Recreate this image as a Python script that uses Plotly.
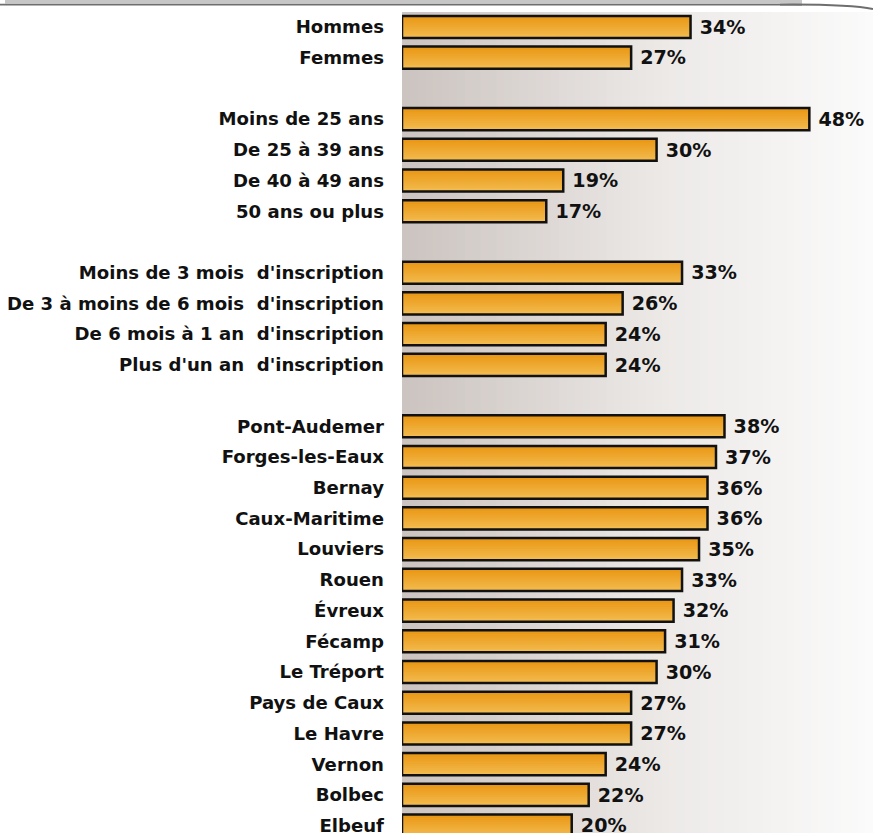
import plotly.graph_objects as go

# ---- data ----
groups = [
    ["Hommes", "Femmes"],
    ["Moins de 25 ans", "De 25 à 39 ans", "De 40 à 49 ans", "50 ans ou plus"],
    ["Moins de 3 mois\u00a0 d'inscription", "De 3 à moins de 6 mois\u00a0 d'inscription",
     "De 6 mois à 1 an\u00a0 d'inscription", "Plus d'un an\u00a0 d'inscription"],
    ["Pont-Audemer", "Forges-les-Eaux", "Bernay", "Caux-Maritime", "Louviers", "Rouen",
     "Évreux", "Fécamp", "Le Tréport", "Pays de Caux", "Le Havre", "Vernon", "Bolbec", "Elbeuf"],
]
group_values = [
    [34, 27],
    [48, 30, 19, 17],
    [33, 26, 24, 24],
    [38, 37, 36, 36, 35, 33, 32, 31, 30, 27, 27, 24, 22, 20],
]

# ---- rows (blank row between groups) ----
labels, values, ypos = [], [], []
row = 0
for g, vals in zip(groups, group_values):
    for lab, v in zip(g, vals):
        labels.append(lab)
        values.append(v)
        ypos.append(row)
        row += 1
    row += 1

W, H = 873, 836
L, T = 402, 12
PW, PH = W - L, H - T
row_px = 30.83
y_top = -15 / row_px
y_bot = y_top + PH / row_px

FONT = "DejaVu Sans, Verdana, sans-serif"

fig = go.Figure()

# bar gradient: stacked strips, each from its offset down to the bar bottom
BW = 0.72
N = 12
c_top = (233, 151, 20)
c_bot = (243, 187, 78)
for i in range(N):
    t = i / (N - 1)
    col = tuple(round(a + (b - a) * t) for a, b in zip(c_top, c_bot))
    fig.add_trace(go.Bar(
        x=values, y=ypos, orientation="h",
        width=BW - i * BW / N, offset=-BW / 2 + i * BW / N,
        marker=dict(color="rgb(%d,%d,%d)" % col, line=dict(width=0)),
        hoverinfo="skip", showlegend=False,
    ))

# outline + value labels
fig.add_trace(go.Bar(
    x=values, y=ypos, orientation="h", width=BW,
    marker=dict(color="rgba(0,0,0,0)", line=dict(color="#111111", width=2.5)),
    text=[f"{v}%" for v in values], textposition="outside",
    textfont=dict(family=FONT, size=22.5, color="#111111"),
    texttemplate="\u00a0<b>%{text}</b>",
    cliponaxis=False, showlegend=False,
))

# background gradient (plot area)
shapes = []
NS = 60
c_left = (203, 195, 191)
c_mid = (236, 233, 231)
c_right = (251, 251, 251)
for i in range(NS):
    t = (i + 0.5) / NS
    if t < 0.55:
        u = t / 0.55
        col = tuple(round(a + (b - a) * u) for a, b in zip(c_left, c_mid))
    else:
        u = (t - 0.55) / 0.45
        col = tuple(round(a + (b - a) * u) for a, b in zip(c_mid, c_right))
    shapes.append(dict(type="rect", xref="paper", yref="paper",
                       x0=i / NS, x1=(i + 1) / NS + 0.002, y0=0, y1=1,
                       fillcolor="rgb(%d,%d,%d)" % col, line=dict(width=0), layer="below"))

def px2x(px):
    return (px - L) / PW

def py2y(py):
    return (H - py) / PH

shapes.append(dict(type="rect", xref="paper", yref="paper",
                   x0=px2x(5), x1=px2x(802), y0=py2y(3.5), y1=py2y(0),
                   fillcolor="#c6c6c6", line=dict(width=0)))
shapes.append(dict(type="line", xref="paper", yref="paper",
                   x0=px2x(0), x1=px2x(802), y0=py2y(4.5), y1=py2y(4.5),
                   line=dict(color="#6e6e6e", width=1.8)))
shapes.append(dict(type="path", xref="paper", yref="paper",
                   path="M %f,%f Q %f,%f %f,%f" % (px2x(780), py2y(4.5), px2x(850), py2y(4.0),
                                                    px2x(873), py2y(9)),
                   line=dict(color="#6e6e6e", width=1.8)))

fig.update_layout(
    width=W, height=H,
    margin=dict(l=L, r=0, t=T, b=0, pad=0),
    barmode="overlay",
    paper_bgcolor="white", plot_bgcolor="rgba(0,0,0,0)",
    shapes=shapes,
    xaxis=dict(range=[0, 55.5], visible=False, fixedrange=True),
    yaxis=dict(range=[y_bot, y_top], tickvals=ypos, ticktext=[f"<b>{l}</b>" for l in labels],
               tickfont=dict(family=FONT, size=18.1, color="#111111"),
               showgrid=False, zeroline=False, showline=False, ticks="",
               ticklabelstandoff=17, ticklabeloverflow="allow", fixedrange=True),
    font=dict(family=FONT),
)

fig.write_html("out.html", config={"displayModeBar": False},
               post_script="document.body.style.margin='0px';")
